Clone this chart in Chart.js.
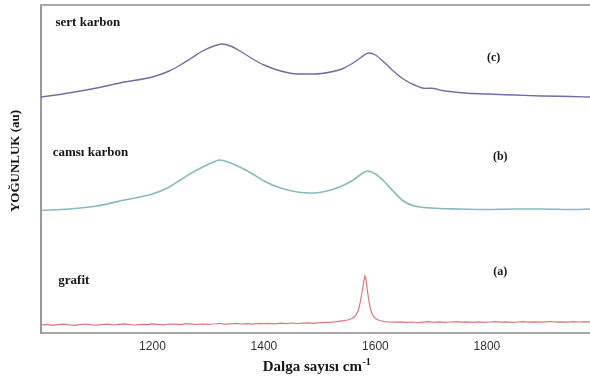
<!DOCTYPE html>
<html>
<head>
<meta charset="utf-8">
<script src="https://cdn.jsdelivr.net/npm/chart.js@4.4.0/dist/chart.umd.min.js"></script>
<style>
html,body{margin:0;padding:0;background:#fff;overflow:hidden;}
#wrap{width:590px;height:382px;position:relative;overflow:hidden;}
canvas{display:block;}
</style>
</head>
<body>
<div id="wrap"><canvas id="c" width="590" height="382"></canvas></div>
<script>
// ---- data (wavenumber cm-1, intensity a.u.) ----
const xTicks = [1200, 1400, 1600, 1800];

const waveC = [1000,1050,1100,1150,1200,1230,1250,1270,1290,1310,1325,1340,1360,1380,1400,1430,1460,1490,1520,1540,1560,1575,1588,1600,1615,1630,1650,1670,1690,1700,1720,1760,1800,1850,1900,1950,1985];
const intC  = [236,240,245,251,256,262,268,275,282,287,289,287,281,274,268,262,259,259,261,264,270,276,280,278,271,263,254,248,244.6,244.8,242.5,240,239,238,237,236.5,236];

const waveB = [1000,1050,1100,1150,1200,1230,1250,1270,1290,1310,1320,1340,1360,1380,1400,1430,1460,1490,1520,1540,1560,1575,1585,1600,1615,1630,1650,1670,1700,1750,1800,1850,1900,1950,1985];
const intB  = [122.5,124,127,133,139,146,153,160,166,171,173,170,165,159,152,145,141,140,143,147,153,159,162,159,152,143,132,127,125,124,123.5,124,124,123.5,124];

const waveA = [1000,1010,1020,1030,1040,1050,1060,1070,1080,1090,1100,
  1110,1120,1130,1140,1150,1160,1170,1180,1190,1200,
  1210,1220,1230,1240,1250,1260,1270,1280,1290,1300,
  1310,1320,1330,1340,1350,1360,1370,1380,1390,1400,
  1410,1420,1430,1440,1450,1460,1470,1480,1490,1500,
  1510,1520,1530,1540,
  1550,1558,1564,1569,1573,1576,1579,1581,1583,1585,1588,1591,1595,1600,1607,1615,1625,
  1635,1645,1655,1665,1675,1685,1695,1705,1715,1725,1735,1745,1755,1765,1775,1785,1795,1805,1815,1825,1835,1845,1855,1865,1875,1885,1895,1905,1915,1925,1935,1945,1955,1965,1975,1985];
const intA = [8.0,8.6,7.7,8.3,8.9,8.1,7.6,8.4,9.0,8.2,7.9,
  8.5,8.8,8.0,8.6,9.2,8.3,8.0,8.7,8.4,9.1,
  8.6,8.2,9.0,8.8,8.3,9.3,8.9,8.5,9.2,8.7,
  9.0,9.5,8.8,9.1,9.6,9.0,9.4,8.9,9.7,9.3,
  9.6,9.1,9.8,9.4,10.0,9.5,9.9,10.2,9.7,10.3,
  10.6,10.9,11.4,12.2,
  13.0,14.5,17,22,31,41,51,57,54,45,33,24,18,14.5,12.5,11.6,11.0,
  10.8,11.2,10.6,11.0,10.5,10.9,11.3,10.7,11.1,10.6,11.0,11.4,10.8,11.2,10.7,11.1,10.6,11.0,11.3,10.8,11.2,10.7,11.0,11.4,10.9,11.2,10.8,11.1,11.5,10.9,11.2,10.8,11.3,11.0,11.4,11.1];

const sampleNames = ["sert karbon", "camsı karbon", "grafit"];
const sampleTags  = ["(c)", "(b)", "(a)"];
const nameAnchors = [[1026, 310], [1021, 180], [1031, 52]];   // data coords (left, middle)
const tagAnchors  = [[1812, 275], [1824, 176], [1824, 61]];    // data coords (center)
const xTitle = "Dalga sayısı cm";
const xTitleSup = "-1";
const yTitle = "YOĞUNLUK (au)";

const toPts = (w, v) => w.map((x, i) => ({x: x, y: v[i]}));

const framePlugin = {
  id: 'frameTop',
  beforeDatasetsDraw(chart) {
    const ctx = chart.ctx, ca = chart.chartArea;
    ctx.save();
    // clear the stray vertical edge at the right of the plot (no right frame in the original)
    ctx.fillStyle = '#ffffff';
    ctx.fillRect(ca.right - 2, 0, 4, ca.bottom - 1);
    ctx.strokeStyle = '#a8a8a8';
    ctx.lineWidth = 2;
    ctx.beginPath();
    ctx.moveTo(ca.left - 1, ca.top);
    ctx.lineTo(ca.right, ca.top);
    ctx.stroke();
    ctx.restore();
  }
};

const textPlugin = {
  id: 'texts',
  afterDraw(chart) {
    const ctx = chart.ctx, xs = chart.scales.x, ys = chart.scales.y, ca = chart.chartArea;
    ctx.save();
    ctx.fillStyle = '#151515';
    ctx.textBaseline = 'middle';
    ctx.font = 'bold 13px "Liberation Serif"';
    ctx.textAlign = 'left';
    sampleNames.forEach((t, i) => {
      ctx.fillText(t, xs.getPixelForValue(nameAnchors[i][0]), ys.getPixelForValue(nameAnchors[i][1]));
    });
    ctx.font = 'bold 12px "Liberation Serif"';
    ctx.textAlign = 'center';
    sampleTags.forEach((t, i) => {
      ctx.fillText(t, xs.getPixelForValue(tagAnchors[i][0]), ys.getPixelForValue(tagAnchors[i][1]));
    });
    // x title with superscript
    ctx.font = 'bold 15px "Liberation Serif"';
    const w1 = ctx.measureText(xTitle).width;
    ctx.font = 'bold 10px "Liberation Serif"';
    const w2 = ctx.measureText(xTitleSup).width;
    const cx = (ca.left + ca.right) / 2 + 1;
    const ty = ca.bottom + 34;
    let sx = cx - (w1 + w2) / 2;
    ctx.textAlign = 'left';
    ctx.font = 'bold 15px "Liberation Serif"';
    ctx.fillText(xTitle, sx, ty);
    ctx.font = 'bold 10px "Liberation Serif"';
    ctx.fillText(xTitleSup, sx + w1 + 0.5, ty - 5);
    // y title
    ctx.translate(16, ca.top + 156);
    ctx.rotate(-Math.PI / 2);
    ctx.textAlign = 'center';
    ctx.font = 'bold 13px "Liberation Serif"';
    ctx.fillText(yTitle, 0, 0);
    ctx.restore();
  }
};

new Chart(document.getElementById('c'), {
  type: 'line',
  data: {
    datasets: [
      {data: toPts(waveC, intC), borderColor: '#6e6ea8', borderWidth: 1.4, cubicInterpolationMode: 'monotone'},
      {data: toPts(waveB, intB), borderColor: '#86babd', borderWidth: 1.6, cubicInterpolationMode: 'monotone'},
      {data: toPts(waveA, intA), borderColor: '#e0767c', borderWidth: 1.2, tension: 0}
    ]
  },
  options: {
    responsive: false,
    animation: false,
    layout: {padding: {top: 5, left: 0, right: 0, bottom: 0}},
    elements: {point: {radius: 0}},
    plugins: {legend: {display: false}, tooltip: {enabled: false}},
    scales: {
      x: {
        type: 'linear', position: 'bottom', min: 1000, max: 1985,
        afterBuildTicks: s => { s.ticks = xTicks.map(v => ({value: v})); },
        afterFit: s => { s.height = 49; },
        ticks: {font: {family: 'Liberation Sans', size: 12}, color: '#333', padding: 6, maxRotation: 0,
                callback: v => String(v)},
        grid: {display: false, drawTicks: false},
        border: {display: true, color: '#a8a8a8', width: 2}
      },
      y: {
        min: 0, max: 328,
        afterFit: s => { s.width = 41; },
        ticks: {display: false},
        grid: {display: false, drawTicks: false},
        border: {display: true, color: '#999', width: 2}
      }
    }
  },
  plugins: [framePlugin, textPlugin]
});
</script>
</body>
</html>
